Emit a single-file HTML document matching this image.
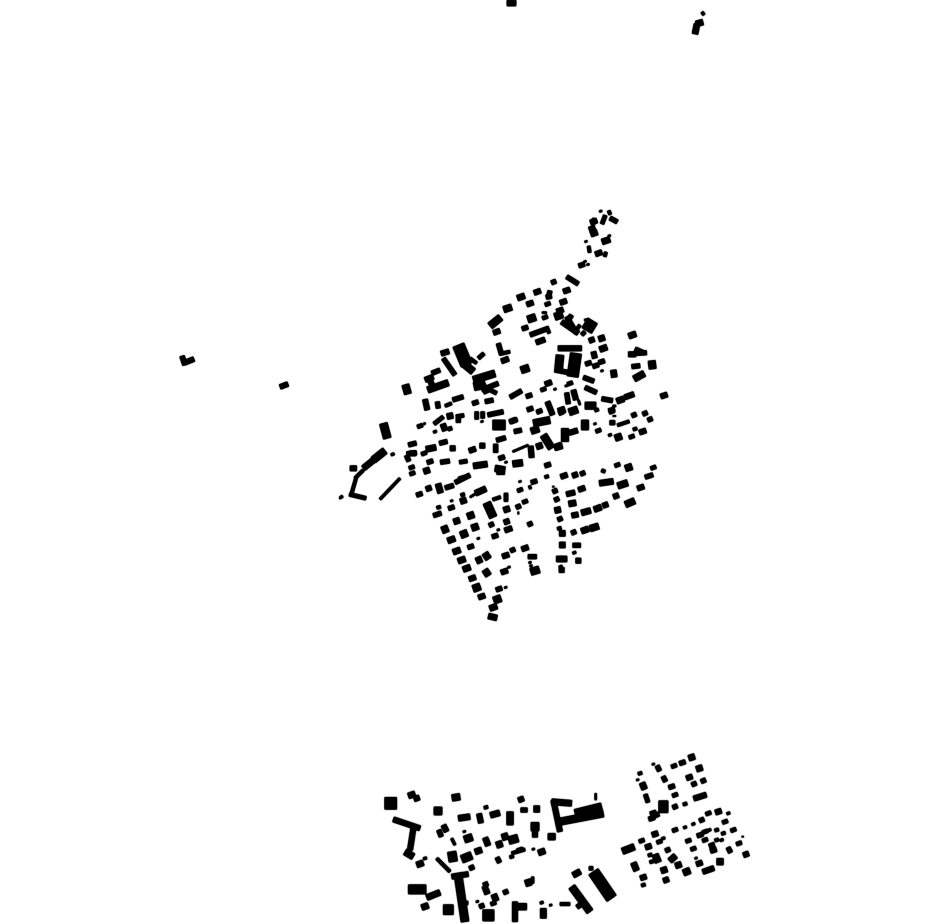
<!DOCTYPE html>
<html><head><meta charset="utf-8"><style>html,body{margin:0;padding:0;background:#fff}svg{display:block}path{fill:none;stroke:#000}</style></head><body>
<svg width="930" height="924" viewBox="0 0 930 924" xmlns="http://www.w3.org/2000/svg">
<defs><filter id="d" filterUnits="userSpaceOnUse" x="0" y="-5" width="930" height="935"><feGaussianBlur stdDeviation="0.5"/><feComponentTransfer><feFuncA type="linear" slope="3" intercept="0"/></feComponentTransfer></filter></defs>
<g filter="url(#d)">
<path stroke-width="6" d="M507 3H516M695 34L697 24M696 24L703 22"/>
<path stroke-width="3" d="M702 12L704 15"/>
<path stroke-width="5" d="M182 356L185 365M184 363L194 359M280 387L288 384"/>
<g transform="translate(330,200) scale(.33333)">
<path stroke-width="6" d="M812 34m-4 1l8-3M768 125m-4 1l8-3M838 108m-4 1l8-3M765 185m-4 1l8-3M774 194m-4 1l8-3M636 338H650M709 558m-4 1l8-3M675 568m-4 1l8-3M767 360m-4 1l8-3M816 513m-4 1l8-3M745 600L750 615M848 618H858"/>
<path stroke-width="10" d="M836 32L841 44M828 156L824 170M776 138L779 158M750 375L735 395M420 475L440 490M510 462L540 455M345 618L365 610M650 380L658 400M800 630m-6 2l12-4"/>
<path stroke-width="12" d="M826 46L816 72M653 312m-8 3l16-6M645 352m-8 3l16-6M445 475L462 460M640 568m-8 3l16-6M720 550m-8 3l16-6M628 633m-8 3l16-6M480 570L500 580M765 395L755 405"/>
<path stroke-width="14" d="M840 54L862 66M786 85m-9 3l18-6M755 195m-9 3l18-6M671 246m-7 3l14-6M585 384m-9 3l18-6M600 405L655 385M505 430L515 465M340 475L375 525M305 520L330 510M322 605L325 625M368 600L400 590M436 608m-9 3l18-6M465 605L490 600M540 592L575 572M725 345L705 375M710 350L740 400M455 570L505 550M760 532L792 544M765 562L800 578M815 596L848 602M775 490m-9 3l18-6M815 485m-9 3l18-6M797 497m-9 3l18-6M905 500L930 497M920 460L950 458M915 447L945 460M597 587m-9 3l18-6M600 627m-9 3l18-6M845 630m-9 3l18-6M710 578L715 612M785 58L798 70"/>
<path stroke-width="16" d="M791 65m-10 3l20-7M806 160m-10 3l20-7M710 272m-10 3l20-7M700 306m-10 3l20-7M690 332m-10 3l20-7M622 276m-10 3l20-7M600 311m-10 3l20-7M500 396m-10 3l20-7M525 480m-11 4l22-8M695 365L745 400M645 418L618 428M345 458m-12 3l24-7M285 540L310 530M300 540L310 565M285 598L292 630M455 545L470 580M684 445H755M790 455L795 475M785 420m-8 3l16-6M655 550m-10 3l20-7M730 570L738 600M884 592L912 582M1002 587m-10 3l20-7M652 605L668 645M895 463H918"/>
<path stroke-width="18" d="M573 291m-11 4l22-8M815 415m-9 3l18-6M820 445m-11 4l22-8M850 510L853 532M907 405m-11 4l22-8M871 600m-11 4l22-8M828 122m-12 4l24-8M792 100m-10 3l20-7"/>
<path stroke-width="14" d="M710 230L745 252M660 272L655 296M665 288L648 292"/>
<path stroke-width="20" d="M533 325m-12 4l24-8M912 537L943 520M293 570L355 548M695 632m-10 3l20-7"/>
<path stroke-width="22" d="M480 378L512 352M605 355m-12 4l24-8M400 490L430 515M226 554L234 582M430 540L495 520M440 545L445 570M585 507m-12 4l24-8M686 347m-12 4l24-8M765 617H798M965 482L968 507M730 633m-13 4l26-9"/>
<path stroke-width="24" d="M690 465L685 518"/>
<path stroke-width="14" d="M675 510L718 518"/>
<path stroke-width="34" d="M738 460L728 530M788 362L770 392"/>
<path stroke-width="36" d="M385 435L410 495"/>
</g>
<g transform="translate(330,410) scale(.33333)">
<path stroke-width="4" d="M667 230h6M848 18h10M565 305v8M28 266l8-5"/>
<path stroke-width="6" d="M285 38l-3 6M528 157m-4 1l8-3M365 273m-4 1l8-3M505 360m-4 1l8-3M445 386m-4 1l8-3M537 472m-4 1l8-3M527 533m-4 1l8-3M570 215m-4 1l8-3M600 458m-4 1l8-3M603 468m-4 1l8-3M420 262L435 252M456 35m-4 1l8-3M795 42m-4 1l8-3M548 125L595 105"/>
<path stroke-width="8" d="M188 133m-5 2l10-4M315 65m-5 2l10-4M600 232m-2-5l4 10M733 428m-5 2l10-4M692 470m-5 2l10-4M840 75m-5 2l10-4M30 264l8-6M210 205L150 268M58 253L108 265"/>
<path stroke-width="10" d="M880 40m-18 6l36-12M915 57m-6 2l12-4M326 292m-6 2l12-4M398 254m-6 2l12-4M650 200m-6 2l12-4M500 265m-12 4l24-8M688 355m-6 2l12-4M100 180L75 205M78 205L65 250"/>
<path stroke-width="12" d="M270 48m-8 3l16-6M312 42L340 20M390 18m-12 2l24-4M360 56m-6 2l12-4M440 5V28M458 5V25M282 130m-8 3l16-6M400 155m-12 2l24-4M245 172m-8 3l16-6M247 190m-8 3l16-6M570 240m-8 3l16-6M585 275m-8 3l16-6M970 173m-8 3l16-6M862 165m-8 3l16-6M822 185m-4 3l4-10M905 80m-8 3l16-6M805 62m-8 3l16-6M845 5m-8 3l16-6M58 253l50 12M628 5m-8 3l16-6"/>
<path stroke-width="14" d="M385 38V24M473 15L520 5M550 32m-12 4l24-8M552 65L575 60M515 143m-9 3l18-6M513 87m-14 4l28-8M340 97m-12 3l24-6M247 102m-12 3l24-6M245 130m-15 2l30-4M233 145m-4-9l8 18M345 155m-14 2l28-4M300 155m-9 3l18-6M268 253m-9 3l18-6M358 230m-13 4l26-8M375 218L420 195M395 205m-9 3l18-6M364 293m-9 3l18-6M322 313m-12 4l24-8M484 344m-7 3l14-6M495 378m-9 3l18-6M422 410m-9 3l18-6M548 420m-7 3l14-6M507 537m-9 3l18-6M612 215m-9 3l18-6M565 290m-7 3l14-6M600 342m-7 3l14-6M607 440m-13 0h26M675 243m-7 3l14-6M680 268m-7 3l14-6M690 327m-7 3l14-6M731 367m-7 3l14-6M740 406m-12 0h24M758 190m-7 3l14-6M653 165m-9 3l18-6M957 198m-12 4l24-8M912 15m-7 3l14-6M945 10m-7 3l14-6M960 28m-7 3l14-6M847 38m-8 0h16M693 8m-7 3l14-6"/>
<path stroke-width="16" d="M368 115m-8 0h16M457 107m-8 0h16M427 120m-10 3l20-7M296 235m-8 3l16-6M248 130m-10 0h20M585 415m-10 3l20-7M527 437m-10 3l20-7M523 485m-10 3l20-7M427 505m-10 3l20-7M455 560m-10 3l20-7M530 335m-8 3l16-6M535 358m-11 4l22-8M695 480m-8 0h16M722 250m-13 3l26-6M755 237m-10 3l20-7M735 315m-10 2l20-4M826 285m-8 3l16-6M745 452m-8 0h16M702 198m-10 3l20-7M735 195m-8 3l16-6M858 258m-8 3l16-6M932 233m-10 3l20-7M730 65m-13 4l26-8M550 32m-8 3l16-6M602 108L605 143M938 65m-10 3l20-7"/>
<path stroke-width="18" d="M360 18m-9 2l18-4M303 115m-15 3l30-6M290 182m-9 3l18-6M430 168L472 162M400 272m-9 3l18-6M380 333m-9 3l18-6M364 389m-11 4l22-8M380 423m-11 4l22-8M447 450m-4-9l8 18M395 450m-11 4l22-8M410 475m-11 4l22-8M683 300m-9 2l18-4M697 370m-9 0h18M697 405m-9 0h18M695 447m-16 0h32M765 360m-11 4l22-8M768 305m-14 4l28-8M803 295m-11 4l22-8M727 280m-11 2l22-4M628 108m-9 3l18-6M685 110m-12 3l24-6M490 592m-11 4l22-8M488 621m-13-3l26 6M808 220L850 214M328 235m-4-14l8 28M530 298m-9 3l18-6"/>
<path stroke-width="18" d="M452 243m-16 7l32-14"/>
<path stroke-width="20" d="M495 175L525 180M563 160m-15 2l30-4M896 173m-10 3l20-7M878 223m-15 5l30-10M900 278m-14 6l28-12M422 317m-10 3l20-7M345 358m-4-10l8 20M435 352m-10 3l20-7M470 438m-6-9l12 18M470 488m-6-9l12 18M793 352m-13 4l26-8M865 82m-10 3l20-7M615 60m-12 4l24-8M685 110m-10 3l20-7"/>
<path stroke-width="22" d="M342 52m-8 3l16-6M512 183m-12 0h24M402 372m-4-10l8 20M440 533m-11 4l22-8M502 568m-11 4l22-8M615 482m-13 4l26-8M610 40L660 30M640 75L665 115M705 55V95M765 30V60"/>
<path stroke-width="24" d="M160 40L172 85M470 278L490 322"/>
<path stroke-width="26" d="M497 115m-7 0h14M528 262m-6 0h12"/>
<path stroke-width="30" d="M488 45H526"/>
<path stroke-width="18" d="M165 122L100 175"/>
<path stroke-width="22" d="M165 122L130 150"/>
<path stroke-width="16" d="M60 175L80 175"/>
</g>
<g transform="translate(370,750) scale(.33333)">
<path stroke-width="4" d="M1115 260h6"/>
<path stroke-width="6" d="M283 245m-4 1l8-3M322 455m-4 1l8-3M542 466m-4 1l8-3M490 298m-4 1l8-3M850 43m-4 1l8-3M803 90m-4 1l8-3M978 325m-4 1l8-3M677 130V150"/>
<path stroke-width="8" d="M165 325m-5 2l10-4M250 275m-5-10l10 20M290 453v12M515 458m-5 2l10-4M1075 190m-5 2l10-4M970 222m-5 2l10-4M945 232m-5 2l10-4M880 265m-5 2l10-4M1055 270m-5 2l10-4M1018 240m-5 2l10-4M488 380v20"/>
<path stroke-width="10" d="M200 325L240 365M348 172m-6 2l12-4M425 320m-6 2l12-4M425 310L465 298M570 462H600M945 162m-6 2l12-4M1040 240m-6 2l12-4M840 315m-6 2l12-4M845 335m-6 2l12-4M820 405m-6 2l12-4M810 70m-6 2l12-4M1060 250m-6 2l12-4M1040 270m-6 2l12-4"/>
<path stroke-width="12" d="M663 355m-6 0h12M912 48m-8 3l16-6M915 135m-8 3l16-6M1015 190m-8 3l16-6M915 240m-8 3l16-6M1065 215m-8 3l16-6M1090 240m-8 3l16-6M955 272m-8 3l16-6M970 296m-8 3l16-6M868 275m-8 3l16-6M815 272m-8 3l16-6M1005 270m-8 3l16-6M1107 280m-8 3l16-6M370 460m-8 3l16-6M1005 245m-8 3l16-6M1025 285m-8 3l16-6"/>
<path stroke-width="14" d="M210 250m-4-10l8 20M462 180m-10 0h20M1000 92m-7 3l14-6M972 102m-7 3l14-6M905 110m-9 3l18-6M915 170m-7 3l14-6M845 205m-9 3l18-6M995 210m-7 3l14-6M990 255m-9 3l18-6M893 300m-7 3l14-6M1078 300m-4-8l8 16M937 38m-9 3l18-6M865 55m-4-8l8 16M883 87m-4-8l8 16M305 353m-7 3l14-6M335 468m-7 3l14-6M347 403m-7 3l14-6M407 426m-7 3l14-6M630 465m-9 7l18-14M450 300m-9 3l18-6M385 330m-4-8l8 16M860 195m-7 3l14-6"/>
<path stroke-width="16" d="M70 208L150 235M130 235L120 300M140 145m-8 3l16-6M330 205m-3-14l6 28M453 148m-8 3l16-6M550 150L570 245M495 220V262M225 235m-5-10l10 20M1045 185m-9 3l18-6M990 140m-19 6l38-12M850 190m-9 3l18-6M855 252m-9 3l18-6M835 290m-9 3l18-6M1030 300m-9 3l18-6M1128 313m-8 3l16-6M988 340m-9 3l18-6M820 382m-9 3l18-6M888 390m-8 3l16-6M1015 360m-17 6l34-12M958 82m-9 3l18-6M435 455V515"/>
<path stroke-width="18" d="M125 135m-10 3l20-7M545 155L605 160M375 192m-14 4l28-8M265 205L300 200M325 303m-10 3l20-7M515 306m-10 3l20-7M165 470m-10 3l20-7M190 435m-20 8l40-16M150 342m-10 3l20-7M375 443m-4-10l8 20M620 370m-11 6l22-12M965 22m-9 3l18-6M988 55m-9 3l18-6M820 108m-4-10l8 20M795 350m-5-12l10 24M908 325m-9 8l18-16M925 345m-9 3l18-6M882 360m-9 3l18-6M520 475V505"/>
<path stroke-width="20" d="M105 305L130 320M258 142m-12 2l24-4M420 185V225M500 177m-9 0h18M545 260m-11 0h22M388 283m-9 3l18-6M405 260m-9 3l18-6M775 297m-18 7l36-14M950 365m-10 4l20-8M860 325m-5-12l10 24M1050 335m-10 0h20M475 398m-9 3l18-6M440 470H470"/>
<path stroke-width="22" d="M570 215L700 190M605 410L660 485M295 265m-12 4l24-8"/>
<path stroke-width="24" d="M202 183m-10 0h24M290 322m-15 6l30-12M430 268m-14 4l28-8M615 190L695 170M265 380L285 515"/>
<path stroke-width="26" d="M495 230m-12 0h24M350 275m-8 3l16-6M245 305L250 335M348 420m-8 3l16-6M830 145m-6 2l12-4"/>
<path stroke-width="28" d="M115 418H168"/>
<path stroke-width="30" d="M235 464v30"/>
<path stroke-width="34" d="M355 479v34M670 365L725 445"/>
<path stroke-width="36" d="M44 160h36M866 170h28"/>
<path stroke-width="16" d="M245 380L295 372"/>
</g>
</g>
</svg>
</body></html>
